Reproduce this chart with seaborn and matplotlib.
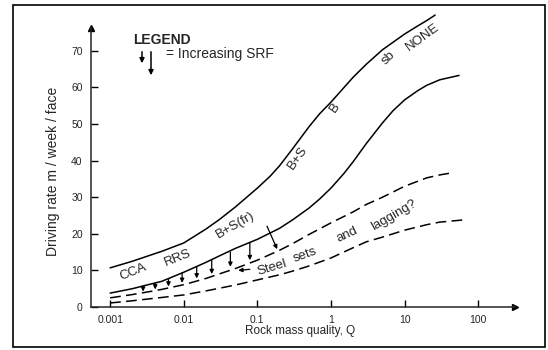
import numpy as np
import pandas as pd
import seaborn as sns
import matplotlib
matplotlib.use("Agg")
import matplotlib.pyplot as plt
from matplotlib.patches import Rectangle, FancyArrowPatch

# values (Q on a log axis, driving rate m/week/face)
q_top = [0.001, 0.002, 0.003, 0.005, 0.01, 0.02, 0.03, 0.05, 0.1, 0.15, 0.2, 0.3,
         0.5, 0.7, 1, 2, 3, 5, 10, 15, 20, 26]
rate_top = [10.7, 12.5, 13.7, 15.2, 17.5, 21.3, 23.8, 27.3, 32.5, 35.8, 38.6, 43.2,
            49.2, 52.8, 56.0, 62.8, 66.3, 70.3, 74.6, 76.8, 78.3, 79.8]

q_mid = [0.001, 0.002, 0.003, 0.005, 0.01, 0.02, 0.03, 0.05, 0.1, 0.2, 0.3,
         0.5, 0.7, 1, 1.5, 2, 3, 5, 7, 10, 15, 20, 30, 55]
rate_mid = [3.8, 5.0, 5.9, 7.0, 9.5, 12.2, 13.9, 16.0, 18.5, 21.5, 23.8,
            27.0, 29.5, 32.5, 36.5, 39.7, 44.6, 50.3, 53.7, 56.6, 59.1, 60.6, 62.1, 63.3]

q_dash1 = [0.001, 0.002, 0.003, 0.005, 0.01, 0.02, 0.03, 0.05, 0.1, 0.2, 0.3,
           0.5, 1, 2, 3, 5, 10, 20, 30, 42]
rate_dash1 = [2.5, 3.4, 4.0, 4.8, 6.1, 7.8, 9.0, 10.5, 12.8, 15.5, 17.3,
              19.8, 23.0, 26.0, 28.0, 30.0, 33.0, 35.3, 36.1, 36.6]

q_dash2 = [0.001, 0.002, 0.003, 0.005, 0.01, 0.02, 0.03, 0.05, 0.1, 0.2, 0.3,
           0.5, 1, 2, 3, 5, 10, 20, 30, 63]
rate_dash2 = [1.1, 1.7, 2.1, 2.6, 3.3, 4.4, 5.1, 6.0, 7.4, 8.8, 9.8,
              11.2, 13.4, 16.2, 17.8, 19.1, 21.0, 22.5, 23.2, 23.8]

# small "increasing SRF" arrows between the second solid and first dashed curve
arrow_q = [0.0028, 0.0041, 0.0062, 0.0095, 0.015, 0.024, 0.043, 0.079]
arrow_top = [5.7, 6.4, 7.5, 9.3, 11.0, 12.8, 15.0, 17.6]
arrow_bottom = [4.2, 4.8, 5.6, 6.6, 7.8, 9.0, 11.0, 12.8]

labels = ["CCA", "RRS", "B+S(fr)", "B+S", "B", "sb", "NONE",
          "Steel", "sets", "and", "lagging?"]
label_q = [0.00205, 0.0083, 0.050, 0.355, 1.15, 6.0, 17.7, 0.158, 0.45, 1.66, 7.1]
label_rate = [9.6, 13.4, 22.4, 40.7, 54.4, 68.0, 73.8, 10.7, 14.2, 19.7, 25.1]
label_rot = [22, 22, 30, 55, 55, 45, 36, 17, 20, 25, 30]

xticks = [0.001, 0.01, 0.1, 1, 10, 100]
xticklabels = ["0.001", "0.01", "0.1", "1", "10", "100"]
yticks = [0, 10, 20, 30, 40, 50, 60, 70]

sns.set_style("ticks")
plt.rcParams["font.family"] = ["Liberation Sans", "DejaVu Sans"]

curves = pd.concat([
    pd.DataFrame({"Q": q_top, "rate": rate_top, "curve": "top"}),
    pd.DataFrame({"Q": q_mid, "rate": rate_mid, "curve": "mid"}),
    pd.DataFrame({"Q": q_dash1, "rate": rate_dash1, "curve": "dash1"}),
    pd.DataFrame({"Q": q_dash2, "rate": rate_dash2, "curve": "dash2"}),
])

fig = plt.figure(figsize=(5.48, 3.5), dpi=100)
ax = fig.add_axes([91 / 548, 43 / 350, 424 / 548, 300 / 350])

x_lo, x_hi = 10 ** -3.26, 10 ** 2.5
y_top = 76.2

sns.lineplot(data=curves, x="Q", y="rate", style="curve", color="black",
             dashes={"top": "", "mid": "", "dash1": (7, 3.5), "dash2": (7, 3.5)},
             estimator=None, sort=False, legend=False, linewidth=1.1, ax=ax)

ax.set_xscale("log")
ax.set_xlim(x_lo, x_hi)
ax.set_ylim(0, 82)
ax.set_xticks(xticks)
ax.set_xticklabels(xticklabels)
ax.set_yticks(yticks)
ax.minorticks_off()
ax.tick_params(direction="in", length=5, width=1, labelsize=7.5, pad=6, color="black")
ax.set_xlabel("")
ax.set_ylabel("")

sns.despine(ax=ax)
ax.spines["left"].set_bounds(0, y_top)
ax.spines["left"].set_linewidth(1.1)
ax.spines["bottom"].set_linewidth(1.1)
ax.plot([x_lo], [y_top], marker="^", color="black", markersize=5, clip_on=False)
ax.plot([x_hi], [0], marker=">", color="black", markersize=5, clip_on=False)

arrow_kw = dict(arrowstyle="-|>", color="black", lw=0.9, mutation_scale=6,
                shrinkA=0, shrinkB=0)
for q, top, bot in zip(arrow_q, arrow_top, arrow_bottom):
    ax.annotate("", xy=(q, bot), xytext=(q, top), arrowprops=arrow_kw)
# last, slanted arrow and the small arrow in front of "Steel"
ax.annotate("", xy=(0.186, 15.8), xytext=(0.135, 22.1), arrowprops=arrow_kw)
ax.annotate("", xy=(0.055, 10.0), xytext=(0.079, 10.3), arrowprops=arrow_kw)

for txt, q, r, rot in zip(labels, label_q, label_rate, label_rot):
    ax.text(q, r, txt, rotation=rot, rotation_mode="anchor", ha="center",
            va="center", fontsize=9.5)

# legend block
fig.text(133 / 548, 1 - 40 / 350, "LEGEND", fontsize=10, fontweight="bold",
         ha="left", va="center")
for xp, y0, y1 in [(142, 49, 66), (151, 49, 78)]:
    fig.add_artist(FancyArrowPatch(
        (xp / 548, 1 - y0 / 350), (xp / 548, 1 - y1 / 350),
        transform=fig.transFigure, arrowstyle="-|>", mutation_scale=7,
        color="black", lw=1.1))
fig.text(166 / 548, 1 - 54 / 350, "= Increasing SRF", fontsize=10,
         ha="left", va="center")

fig.text(53 / 548, 1 - 171 / 350, "Driving rate m / week / face", rotation=90,
         fontsize=10, ha="center", va="center")
fig.text(300 / 548, 1 - 331 / 350, "Rock mass quality, Q", fontsize=8.5,
         ha="center", va="center")

fig.patches.append(Rectangle((13 / 548, 3 / 350), 532 / 548, 342 / 350,
                             transform=fig.transFigure, fill=False,
                             edgecolor="black", lw=1.2))

fig.savefig("out.png", dpi=100)
